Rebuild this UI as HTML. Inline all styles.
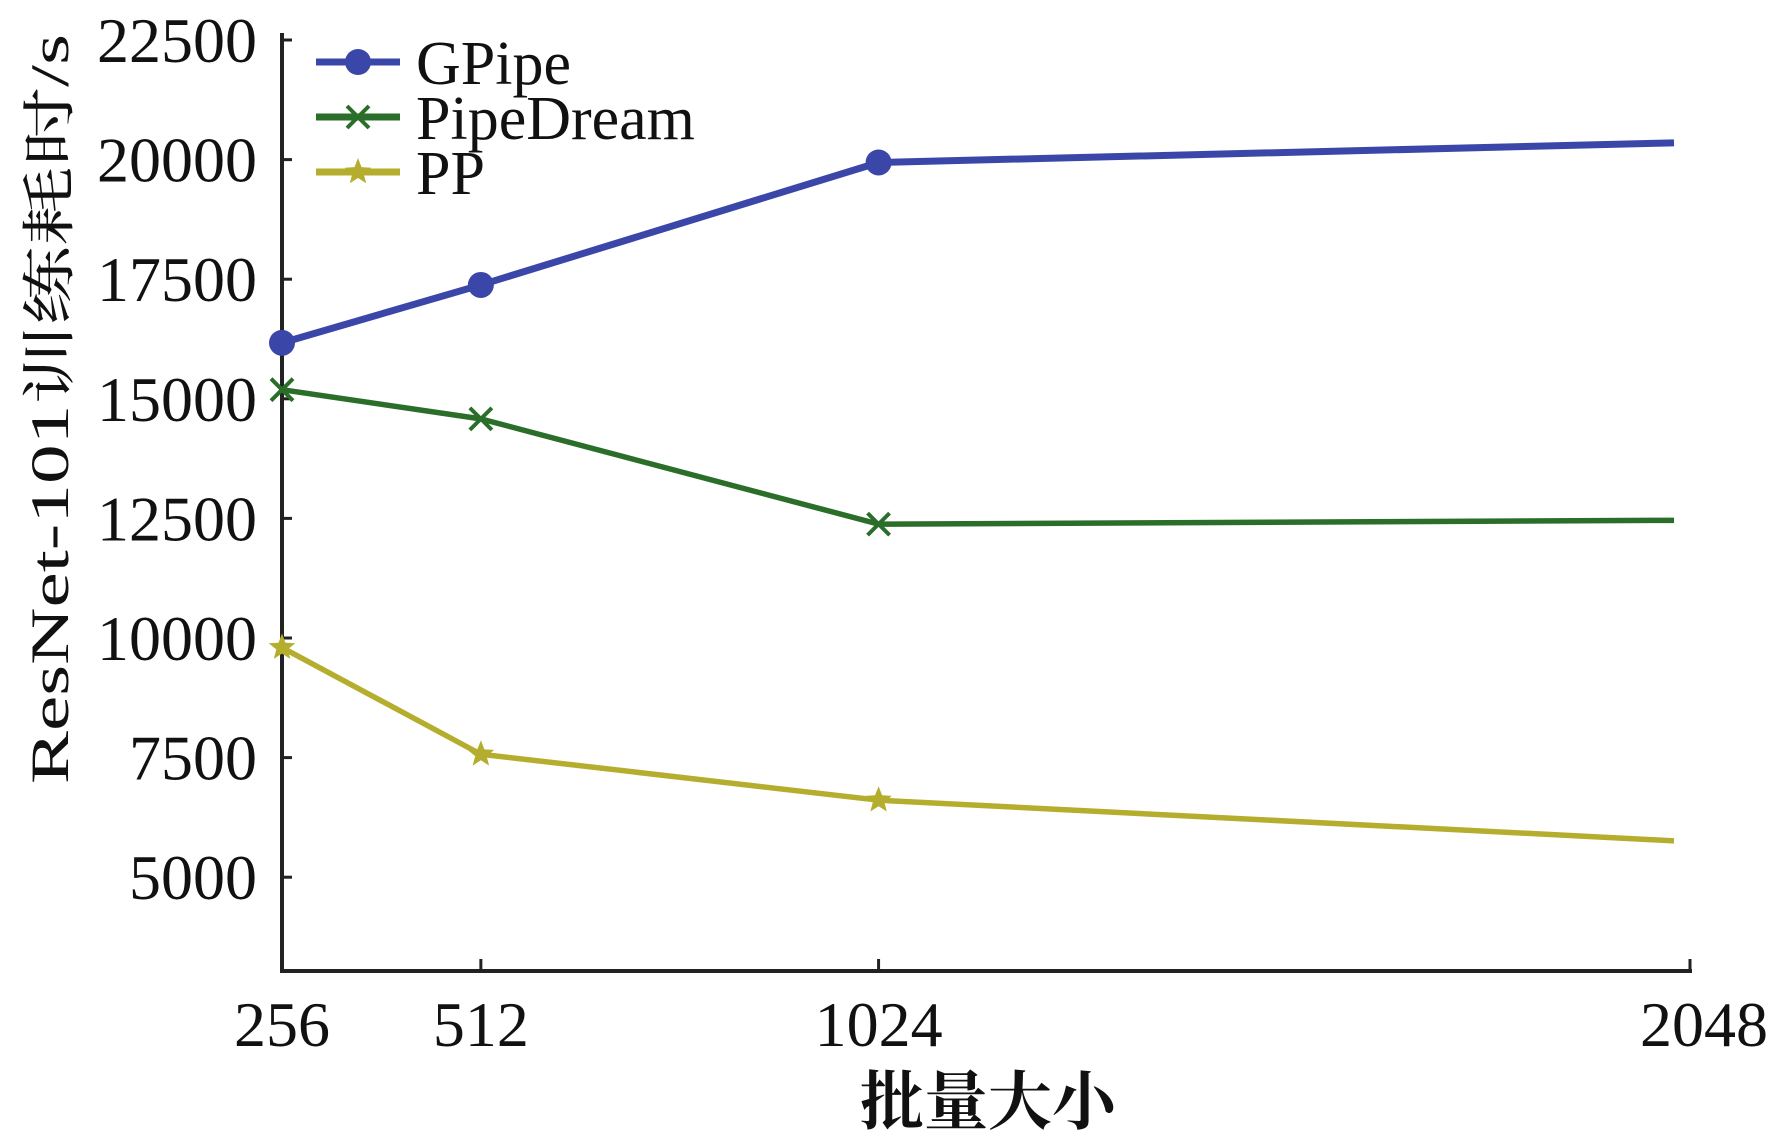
<!DOCTYPE html>
<html><head><meta charset="utf-8"><style>
html,body{margin:0;padding:0;background:#fff;}
svg{display:block;}
text{font-family:"Liberation Serif","Noto Serif CJK SC",serif;fill:#111;}
</style></head><body>
<svg id="chart" width="1772" height="1132" viewBox="0 0 1772 1132" xmlns="http://www.w3.org/2000/svg">
<g id="axes"></g>
<g id="series"></g>
<g id="legend"></g>
<text x="988" y="1124" font-size="64" text-anchor="middle" font-weight="bold">批量大小</text>
<text transform="translate(68,409) rotate(-90)" font-size="54" text-anchor="middle" textLength="750" lengthAdjust="spacingAndGlyphs">ResNet-101训练耗时/s</text>
</svg>
<script>
const batchSizes = [256, 512, 1024, 2048];
const gpipe = [16170, 17380, 19940, 20350];
const pipedream = [15190, 14580, 12380, 12460];
const pp = [9800, 7570, 6610, 5760];
const yTicks = [5000, 7500, 10000, 12500, 15000, 17500, 20000, 22500];
const xTicks = [256, 512, 1024, 2048];
const seriesNames = ["GPipe", "PipeDream", "PP"];

const NS = "http://www.w3.org/2000/svg";
const X0 = 282, X1 = 1674, Y0 = 971;
const xScale = v => X0 + (v - 256) / (2048 - 256) * (X1 - X0);
const yScale = v => 40 + (22500 - v) / 2500 * 119.6;
function mk(tag, attrs, parent) {
  const e = document.createElementNS(NS, tag);
  for (const k in attrs) e.setAttribute(k, attrs[k]);
  parent.appendChild(e);
  return e;
}
const axes = document.getElementById('axes');
let el = mk('line', {x1: X0, y1: 33, x2: X0, y2: Y0, stroke: '#222', 'stroke-width': 4}, axes);


el = mk('line', {x1: X0 - 2, y1: Y0, x2: 1692, y2: Y0, stroke: '#222', 'stroke-width': 4}, axes);


yTicks.forEach(v => {
  const y = yScale(v);
  let t = mk('line', {x1: X0, y1: y, x2: X0 + 10, y2: y, stroke: '#222', 'stroke-width': 3}, axes);
  
  
  let l = mk('text', {x: 257, y: y + 22, 'font-size': 64, 'text-anchor': 'end'}, axes);
  l.textContent = v;
  
  
});
xTicks.forEach((v, i) => {
  const x = i === xTicks.length - 1 ? 1690 : xScale(v);
  let t = mk('line', {x1: x, y1: Y0, x2: x, y2: Y0 - 12, stroke: '#222', 'stroke-width': 3}, axes);
  
  
  let l = mk('text', {x: i === xTicks.length - 1 ? 1704 : x, y: 1046, 'font-size': 64, 'text-anchor': 'middle'}, axes);
  l.textContent = v;
  
  
});
const colors = ['#3b47a8', '#2a6e2a', '#b5ad2e'];
const data = [gpipe, pipedream, pp];
const sg = document.getElementById('series');
function marker(kind, x, y, c, parent) {
  let m;
  if (kind === 0) {
    m = mk('circle', {cx: x, cy: y, r: 13, fill: c}, parent);
  } else if (kind === 1) {
    m = mk('path', {d: `M${x-11},${y-11}L${x+11},${y+11}M${x-11},${y+11}L${x+11},${y-11}`, stroke: c, 'stroke-width': 4, fill: 'none'}, parent);
  } else {
    let p = '';
    for (let k = 0; k < 10; k++) {
      const r = k % 2 ? 6 : 14, a = -Math.PI / 2 + k * Math.PI / 5;
      p += (k ? 'L' : 'M') + (x + r * Math.cos(a)).toFixed(1) + ',' + (y + r * Math.sin(a)).toFixed(1);
    }
    m = mk('path', {d: p + 'Z', fill: c}, parent);
  }
  return m;
}
data.forEach((vals, s) => {
  const g = mk('g', {}, sg);
  
  
  const pts = vals.map((v, i) => xScale(batchSizes[i]) + ',' + yScale(v)).join(' ');
  const pl = mk('polyline', {points: pts, fill: 'none', stroke: colors[s], 'stroke-width': s === 0 ? 7 : 5.5, 'stroke-linejoin': 'round'}, g);
  
  
  vals.slice(0, 3).forEach((v, i) => {
    const m = marker(s, xScale(batchSizes[i]), yScale(v), colors[s], g);
    
    
  });
});
const lg = document.getElementById('legend');
const rowY = [62, 117, 172];
seriesNames.forEach((n, s) => {
  const g = mk('g', {}, lg);
  
  
  mk('line', {x1: 316, y1: rowY[s], x2: 400, y2: rowY[s], stroke: colors[s], 'stroke-width': 7}, g);
  marker(s, 358, rowY[s], colors[s], g);
  const t = mk('text', {x: 416, y: rowY[s] + 22, 'font-size': 62}, g);
  t.textContent = n;
});
</script>
</body></html>
